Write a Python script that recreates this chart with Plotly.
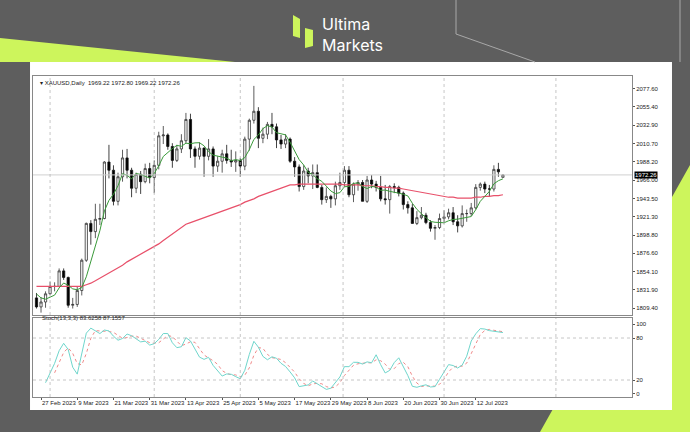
import plotly.graph_objects as go
import pandas as pd

# daily XAUUSD bars (first 12 are before the visible window, used only to warm up the stochastic)
dates = ["08 Feb", "09 Feb", "10 Feb", "13 Feb", "14 Feb", "15 Feb", "16 Feb", "17 Feb", "20 Feb", "21 Feb", "22 Feb", "23 Feb",
         "24 Feb", "27 Feb", "28 Feb", "01 Mar", "02 Mar", "03 Mar", "06 Mar", "07 Mar", "08 Mar", "09 Mar", "10 Mar",
         "13 Mar", "14 Mar", "15 Mar", "16 Mar", "17 Mar", "20 Mar", "21 Mar", "22 Mar", "23 Mar", "24 Mar",
         "27 Mar", "28 Mar", "29 Mar", "30 Mar", "31 Mar", "03 Apr", "04 Apr", "05 Apr", "06 Apr",
         "10 Apr", "11 Apr", "12 Apr", "13 Apr", "14 Apr", "17 Apr", "18 Apr", "19 Apr", "20 Apr", "21 Apr",
         "24 Apr", "25 Apr", "26 Apr", "27 Apr", "28 Apr", "01 May", "02 May", "03 May", "04 May", "05 May",
         "08 May", "09 May", "10 May", "11 May", "12 May", "15 May", "16 May", "17 May", "18 May", "19 May",
         "22 May", "23 May", "24 May", "25 May", "26 May", "29 May", "30 May", "31 May", "01 Jun", "02 Jun",
         "05 Jun", "06 Jun", "07 Jun", "08 Jun", "09 Jun", "12 Jun", "13 Jun", "14 Jun", "15 Jun", "16 Jun",
         "19 Jun", "20 Jun", "21 Jun", "22 Jun", "23 Jun", "26 Jun", "27 Jun", "28 Jun", "29 Jun", "30 Jun",
         "03 Jul", "04 Jul", "05 Jul", "06 Jul", "07 Jul", "10 Jul", "11 Jul", "12 Jul", "13 Jul", "14 Jul",
         "17 Jul", "18 Jul", "19 Jul", "20 Jul"]
opens = [1872, 1875, 1861, 1865, 1853, 1854, 1836, 1836, 1842, 1841, 1835, 1825,
         1822, 1811, 1817, 1827, 1836, 1836, 1855, 1847, 1813, 1814, 1831,
         1868, 1913, 1903, 1918, 1919, 1988, 1978, 1940, 1970, 1993,
         1978, 1956, 1973, 1964, 1980, 1969, 1984, 2020, 2021,
         2007, 1990, 2004, 2014, 2040, 2004, 1995, 2005, 1995, 2004,
         1983, 1989, 1998, 1990, 1988, 1990, 1983, 2016, 2039, 2050,
         2017, 2022, 2034, 2031, 2015, 2010, 2016, 1989, 1982, 1958,
         1977, 1971, 1975, 1957, 1942, 1946, 1943, 1959, 1963, 1978,
         1948, 1961, 1963, 1940, 1966, 1961, 1957, 1943, 1942, 1958,
         1957, 1950, 1936, 1932, 1913, 1920, 1923, 1914, 1907, 1908,
         1919, 1921, 1926, 1915, 1910, 1925, 1925, 1932, 1957, 1961,
         1955, 1955, 1979, 1969.22]
highs = [1890, 1891, 1871, 1868, 1870, 1856, 1846, 1846, 1846, 1847, 1843, 1831,
         1828, 1823, 1830, 1842, 1841, 1858, 1858, 1848, 1822, 1836, 1870,
         1914, 1917, 1937, 1937, 1989, 2009, 1984, 1975, 2003, 2004,
         1981, 1975, 1977, 1986, 1987, 1990, 2025, 2032, 2023,
         2011, 2009, 2022, 2048, 2047, 2007, 2012, 2006, 2016, 2007,
         1995, 2003, 2009, 2003, 2001, 1993, 2019, 2041, 2081, 2055,
         2030, 2037, 2048, 2035, 2021, 2022, 2018, 1994, 1985, 1984,
         1981, 1985, 1985, 1960, 1957, 1948, 1964, 1975, 1983, 1983,
         1963, 1966, 1966, 1971, 1972, 1965, 1971, 1960, 1960, 1962,
         1959, 1952, 1940, 1937, 1928, 1933, 1926, 1917, 1911, 1925,
         1929, 1931, 1933, 1923, 1935, 1930, 1938, 1961, 1963, 1964,
         1960, 1984, 1987, 1972.80]
lows = [1868, 1858, 1855, 1848, 1843, 1830, 1829, 1819, 1836, 1832, 1822, 1818,
        1809, 1804, 1810, 1826, 1830, 1835, 1844, 1810, 1809, 1811, 1825,
        1866, 1887, 1895, 1911, 1918, 1968, 1935, 1935, 1964, 1968,
        1945, 1950, 1949, 1962, 1962, 1950, 1979, 2010, 2003,
        1981, 1988, 1999, 2011, 1993, 1981, 1991, 1970, 1990, 1970,
        1976, 1975, 1986, 1982, 1976, 1970, 1978, 2002, 2035, 2005,
        2011, 2016, 2022, 2005, 2004, 2005, 1987, 1970, 1952, 1954,
        1962, 1955, 1956, 1936, 1938, 1932, 1935, 1954, 1958, 1945,
        1939, 1953, 1940, 1938, 1956, 1952, 1940, 1936, 1925, 1950,
        1946, 1930, 1925, 1913, 1911, 1918, 1912, 1903, 1893, 1906,
        1913, 1918, 1911, 1902, 1908, 1915, 1922, 1930, 1953, 1950,
        1946, 1952, 1970, 1969.22]
closes = [1875, 1861, 1865, 1853, 1854, 1836, 1836, 1842, 1841, 1835, 1825, 1822,
          1811, 1817, 1827, 1836, 1836, 1855, 1847, 1813, 1814, 1831, 1868,
          1913, 1903, 1918, 1919, 1988, 1978, 1940, 1970, 1993, 1978,
          1956, 1973, 1964, 1980, 1969, 1984, 2020, 2021, 2007,
          1990, 2004, 2014, 2040, 2004, 1995, 2005, 1995, 2004, 1983,
          1989, 1998, 1990, 1988, 1990, 1983, 2016, 2039, 2050, 2017,
          2022, 2034, 2031, 2015, 2010, 2016, 1989, 1982, 1958, 1977,
          1971, 1975, 1957, 1942, 1946, 1943, 1959, 1963, 1978, 1948,
          1961, 1963, 1940, 1966, 1961, 1957, 1943, 1942, 1958, 1957,
          1950, 1936, 1932, 1913, 1920, 1923, 1914, 1907, 1908, 1919,
          1921, 1926, 1915, 1910, 1925, 1925, 1932, 1957, 1961, 1955,
          1955, 1979, 1976, 1972.26]
# long moving average, from 24 Feb onward
slow_ma = [1836, 1836, 1836, 1836, 1836, 1836, 1836, 1836, 1836, 1836, 1836,
           1838, 1840, 1843, 1846, 1849, 1853, 1856, 1859, 1862, 1866,
           1869, 1872, 1875, 1878, 1881, 1884, 1888, 1892, 1896, 1900,
           1904, 1908, 1912, 1914, 1916, 1918, 1920, 1922, 1924, 1926,
           1928, 1930, 1932, 1934, 1936, 1939, 1941, 1943, 1946, 1948,
           1950, 1952, 1954, 1956, 1958, 1960, 1960, 1961, 1961, 1961,
           1961, 1961, 1961, 1961, 1961, 1961, 1961, 1960, 1960, 1960,
           1960, 1959, 1959, 1959, 1958, 1958, 1957, 1957, 1956, 1956,
           1955, 1954, 1953, 1952, 1951, 1950, 1949, 1948, 1947, 1946,
           1945, 1945, 1944, 1944, 1944, 1944, 1945, 1945, 1946, 1946,
           1947, 1947, 1948]
price_ticks = [2077.60, 2055.40, 2032.90, 2010.70, 1988.20, 1966.00, 1943.50, 1921.30,
               1898.80, 1876.60, 1854.10, 1831.90, 1809.40]
month_starts = [2, 25, 44, 66.7, 89, 113.7]
header_text = "▾ XAUUSD,Daily  1969.22 1972.80 1969.22 1972.26"
stoch_text = "Stoch(13,3,3) 83.6258 87.1557"

df = pd.DataFrame({"date": dates, "o": opens, "h": highs, "l": lows, "c": closes})
df["i"] = range(-13, len(df) - 13)
df["ma5"] = df["c"].rolling(5).mean()
hh = df["h"].rolling(13).max()
ll = df["l"].rolling(13).min()
k = 100 * (df["c"] - ll).rolling(3).sum() / (hh - ll).rolling(3).sum()
df["k"] = k
df["d"] = k.rolling(3).mean()
vis = df[df["i"] >= -1].copy()
vis["slow"] = slow_ma

W, H = 690, 432
def px(x):
    return x / W
def py(y):
    return 1 - y / H
def path(pts):
    return "M " + " L ".join(f"{px(a):.4f},{py(b):.4f}" for a, b in pts) + " Z"

font = "Liberation Sans, Arial"
fig = go.Figure()
fig.add_trace(go.Candlestick(
    x=vis["i"], open=vis["o"], high=vis["h"], low=vis["l"], close=vis["c"],
    increasing=dict(line=dict(color="#333333", width=0.8), fillcolor="white"),
    decreasing=dict(line=dict(color="#111111", width=0.8), fillcolor="black"),
    whiskerwidth=0, showlegend=False, hoverinfo="skip"))
fig.add_trace(go.Scatter(x=vis["i"], y=vis["slow"], mode="lines",
                         line=dict(color="#e8506a", width=1.2), showlegend=False))
fig.add_trace(go.Scatter(x=vis["i"], y=vis["ma5"], mode="lines",
                         line=dict(color="#3a9a3a", width=1), showlegend=False))
fig.add_trace(go.Scatter(x=vis["i"], y=vis["d"], mode="lines", xaxis="x2", yaxis="y2",
                         line=dict(color="#f08a8a", width=1, dash="dot"), showlegend=False))
fig.add_trace(go.Scatter(x=vis["i"], y=vis["k"], mode="lines", xaxis="x2", yaxis="y2",
                         line=dict(color="#6fd6cc", width=1), showlegend=False))

last = vis.iloc[-1]
tick_idx = list(range(0, 104, 8))
tick_txt = [vis.loc[vis["i"] == t, "date"].iloc[0].lstrip("0") + " 2023" for t in tick_idx]

lime = "#cdf55c"
grid = dict(color="#b8b8b8", width=0.8, dash="dot")
shapes = [
    dict(type="path", xref="paper", yref="paper", path=path([(0, 38), (235, 62), (0, 62)]),
         fillcolor=lime, line=dict(width=0), layer="below"),
    dict(type="path", xref="paper", yref="paper", path=path([(540, 432), (690, 165), (690, 432)]),
         fillcolor=lime, line=dict(width=0), layer="below"),
    dict(type="path", xref="paper", yref="paper", path=path([(30, 62), (672, 62), (672, 410), (30, 410)]),
         fillcolor="white", line=dict(width=0), layer="below"),
    dict(type="path", xref="paper", yref="paper", path=path([(293, 15), (300, 19), (300, 38), (293, 36)]),
         fillcolor=lime, line=dict(width=0)),
    dict(type="path", xref="paper", yref="paper", path=path([(305, 28), (313, 30), (313, 46), (305, 48)]),
         fillcolor=lime, line=dict(width=0)),
    dict(type="line", xref="paper", yref="paper", x0=px(456), x1=px(456), y0=py(0), y1=py(34),
         line=dict(color="#a8a8a8", width=1)),
    dict(type="line", xref="paper", yref="paper", x0=px(456), x1=px(535), y0=py(34), y1=py(62),
         line=dict(color="#a8a8a8", width=1)),
    dict(type="line", xref="paper", yref="paper", x0=px(680), x1=px(680), y0=py(0), y1=py(62),
         line=dict(color="#a8a8a8", width=1)),
    dict(type="line", xref="x", yref="y", x0=-1.77, x1=130.5, y0=last["c"], y1=last["c"],
         line=dict(color="#d0d0d0", width=1)),
    dict(type="line", xref="x2", yref="y2", x0=-1.77, x1=130.5, y0=20, y1=20, line=grid),
    dict(type="line", xref="x2", yref="y2", x0=-1.77, x1=130.5, y0=80, y1=80, line=grid),
]
for m in month_starts:
    shapes.append(dict(type="line", xref="x", yref="paper", x0=m, x1=m, y0=py(315), y1=py(76), line=grid))
    shapes.append(dict(type="line", xref="x", yref="paper", x0=m, x1=m, y0=py(397), y1=py(318), line=grid))

annotations = [
    dict(xref="paper", yref="paper", x=px(320), y=py(34), text="Ultima<br>Markets", showarrow=False,
         xanchor="left", yanchor="middle", align="left",
         font=dict(family="Inter, Roboto", size=16, color="white")),
    dict(xref="paper", yref="paper", x=px(38), y=py(78), showarrow=False, xanchor="left",
         text=header_text, font=dict(family=font, size=6, color="#222")),
    dict(xref="paper", yref="paper", x=px(40), y=py(323), showarrow=False, xanchor="left",
         text=stoch_text, font=dict(family=font, size=6, color="#222")),
    dict(xref="paper", yref="y", x=px(634), y=last["c"], showarrow=False, xanchor="left",
         text=f"{last['c']:.2f}", bgcolor="black", borderpad=0,
         font=dict(family=font, size=6, color="white")),
]

axis_font = dict(family=font, size=6, color="#222")
fig.update_layout(
    width=W, height=H, margin=dict(l=0, r=0, t=0, b=0, autoexpand=False),
    paper_bgcolor="#5e5e5e", plot_bgcolor="white",
    shapes=shapes, annotations=annotations,
    xaxis=dict(domain=[px(33), px(632)], range=[-1.77, 130.5], anchor="y", automargin=False,
               showticklabels=False, showgrid=False, zeroline=False, rangeslider=dict(visible=False),
               showline=True, linecolor="#888", mirror=True),
    yaxis=dict(domain=[py(315), py(76)], range=[1801.1, 2093.1], side="right", anchor="x",
               automargin=False, tickvals=price_ticks, ticktext=[f"{v:.2f}" for v in price_ticks],
               tickfont=axis_font, ticks="outside", ticklen=2, tickcolor="#555",
               showgrid=False, zeroline=False, showline=True, linecolor="#888", mirror=True),
    xaxis2=dict(domain=[px(33), px(632)], range=[-1.77, 130.5], anchor="y2", automargin=False,
                tickvals=tick_idx, ticktext=tick_txt, tickfont=axis_font, tickangle=0,
                ticklabelposition="outside right", ticks="outside", ticklen=2, tickcolor="#555",
                showgrid=False, zeroline=False, showline=True, linecolor="#888", mirror=True),
    yaxis2=dict(domain=[py(397), py(318)], range=[-4.3, 108.6], side="right", anchor="x2",
                automargin=False, tickvals=[0, 20, 80, 100], tickfont=axis_font, ticks="outside",
                ticklen=2, tickcolor="#555", showgrid=False, zeroline=False,
                showline=True, linecolor="#888", mirror=True),
)

fig.write_html("out.html", config={"displayModeBar": False},
               post_script="document.body.style.margin='0';document.body.style.padding='0';")
